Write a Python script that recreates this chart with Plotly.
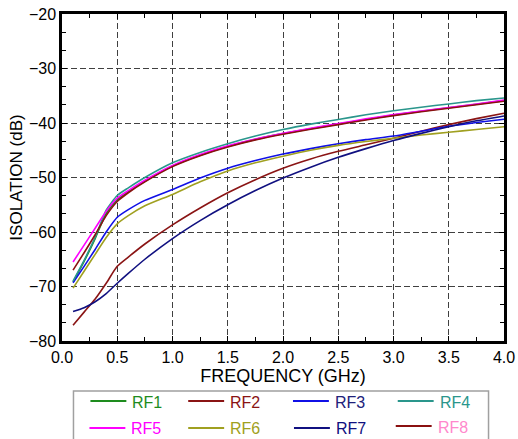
import plotly.graph_objects as go

freq = [0.1, 0.2, 0.3, 0.4, 0.5, 0.6, 0.75, 1.0, 1.25, 1.5, 1.75, 2.0, 2.25, 2.5, 2.75, 3.0, 3.25, 3.5, 3.75, 4.0]

rf1 = [-69.2, -65.4, -61.2, -56.6, -54.1, -52.6, -50.7, -47.9, -45.9, -44.3, -43.0, -41.95, -41.05, -40.2, -39.35, -38.55, -37.85, -37.2, -36.55, -35.9]
rf2 = [-77.1, -74.7, -72.3, -69.4, -66.3, -64.6, -62.2, -58.7, -55.6, -52.8, -50.4, -48.3, -46.6, -45.2, -44.0, -42.8, -41.5, -40.3, -39.2, -38.2]
rf3 = [-69.3, -66.3, -63.2, -60.0, -57.3, -55.9, -54.2, -52.2, -50.1, -48.3, -46.9, -45.7, -44.7, -43.8, -43.05, -42.4, -41.5, -40.6, -39.9, -39.3]
rf4 = [-69.0, -65.2, -61.0, -56.0, -53.3, -51.9, -50.0, -47.3, -45.4, -43.8, -42.4, -41.2, -40.2, -39.35, -38.5, -37.75, -37.1, -36.5, -35.9, -35.4]
rf5 = [-65.5, -62.4, -59.3, -56.2, -53.8, -52.4, -50.5, -47.8, -45.8, -44.2, -42.95, -41.9, -40.95, -40.1, -39.25, -38.45, -37.8, -37.15, -36.5, -35.8]
rf6 = [-70.3, -67.2, -64.1, -61.0, -58.5, -57.0, -55.2, -53.1, -50.8, -48.8, -47.3, -46.1, -45.0, -44.1, -43.4, -42.8, -42.2, -41.7, -41.2, -40.7]
rf7 = [-74.6, -73.9, -72.8, -71.3, -69.4, -67.6, -65.0, -61.2, -57.9, -55.0, -52.4, -50.1, -48.1, -46.3, -44.7, -43.2, -41.9, -40.7, -39.6, -38.7]
rf8 = [-67.0, -63.8, -60.5, -57.0, -54.4, -52.8, -50.8, -48.0, -46.0, -44.4, -43.1, -42.05, -41.15, -40.3, -39.45, -38.65, -37.95, -37.3, -36.65, -36.0]

names = ["RF1", "RF2", "RF3", "RF4", "RF5", "RF6", "RF7", "RF8"]
series = [rf1, rf2, rf3, rf4, rf5, rf6, rf7, rf8]
line_colors = ["#1e8c1e", "#8a1414", "#1010e6", "#2a968c", "#ff00ff", "#a0a020", "#101080", "#8a1010"]
text_colors = ["#1e8c1e", "#8a1414", "#20207a", "#2a968c", "#ff00ff", "#a0a020", "#101080", "#ff88cc"]

x_ticks = [0.0, 0.5, 1.0, 1.5, 2.0, 2.5, 3.0, 3.5, 4.0]
x_labels = ["0.0", "0.5", "1.0", "1.5", "2.0", "2.5", "3.0", "3.5", "4.0"]
y_ticks = [-80, -70, -60, -50, -40, -30, -20]

W, H = 518, 439
ML, MR, MT, MB = 61.5, 13.5, 14, 98
PW, PH = W - ML - MR, H - MT - MB


def px_x(p):
    return (p - ML) / PW


def px_y(p):
    return (H - MB - p) / PH


fig = go.Figure()
for i in range(8):
    fig.add_trace(go.Scatter(
        x=freq, y=series[i], mode="lines", name=names[i],
        line=dict(color=line_colors[i], width=1.6, shape="spline", smoothing=0.6),
        showlegend=False,
    ))

font_family = "Liberation Sans, Arial, sans-serif"

# manual legend (two rows of four)
shapes = [dict(type="rect", xref="paper", yref="paper",
               x0=px_x(73), x1=px_x(489), y0=px_y(448), y1=px_y(391),
               line=dict(color="#a0a0a0", width=1.5), fillcolor="white", layer="above")]
annotations = []
col_x = [[90, 188, 293, 398], [89, 188, 294, 396]]
row_y = [[401, 401, 401, 401], [428, 428, 428, 426]]
for i in range(8):
    r, c = divmod(i, 4)
    lx = col_x[r][c]
    ly = row_y[r][c]
    shapes.append(dict(type="line", xref="paper", yref="paper",
                       x0=px_x(lx), x1=px_x(lx + 36), y0=px_y(ly), y1=px_y(ly),
                       line=dict(color=line_colors[i], width=1.8), layer="above"))
    annotations.append(dict(xref="paper", yref="paper", x=px_x(lx + 40), y=px_y(ly + 1),
                            text=names[i], showarrow=False, xanchor="left", yanchor="middle",
                            font=dict(size=16, color=text_colors[i], family=font_family)))

fig.update_layout(
    width=W, height=H,
    margin=dict(l=ML, r=MR, t=MT, b=MB, autoexpand=False),
    paper_bgcolor="white", plot_bgcolor="white",
    font=dict(family=font_family, size=16, color="black"),
    showlegend=False,
    shapes=shapes, annotations=annotations,
)
fig.update_xaxes(
    range=[0, 4.0], tickvals=x_ticks, ticktext=x_labels,
    showgrid=True, gridcolor="#404040", griddash="6px,3px", gridwidth=1,
    showline=True, linecolor="black", linewidth=2.5, mirror="allticks",
    ticks="inside", ticklen=5, tickcolor="black",
    minor=dict(dtick=0.25, tick0=0, ticks="inside", ticklen=4, tickcolor="black", showgrid=False),
    zeroline=False,
    title=dict(text="FREQUENCY (GHz)", font=dict(size=18), standoff=5),
    tickfont=dict(size=16),
)
fig.update_yaxes(
    range=[-80, -20], tickvals=y_ticks,
    showgrid=True, gridcolor="#404040", griddash="6px,3px", gridwidth=1,
    showline=True, linecolor="black", linewidth=2.5, mirror="allticks",
    ticks="inside", ticklen=5, tickcolor="black",
    minor=dict(dtick=10 / 3, tick0=-20, ticks="inside", ticklen=4, tickcolor="black", showgrid=False),
    zeroline=False,
    title=dict(text="ISOLATION (dB)", font=dict(size=17), standoff=2),
    tickfont=dict(size=16),
)

fig.write_html("out.html")
